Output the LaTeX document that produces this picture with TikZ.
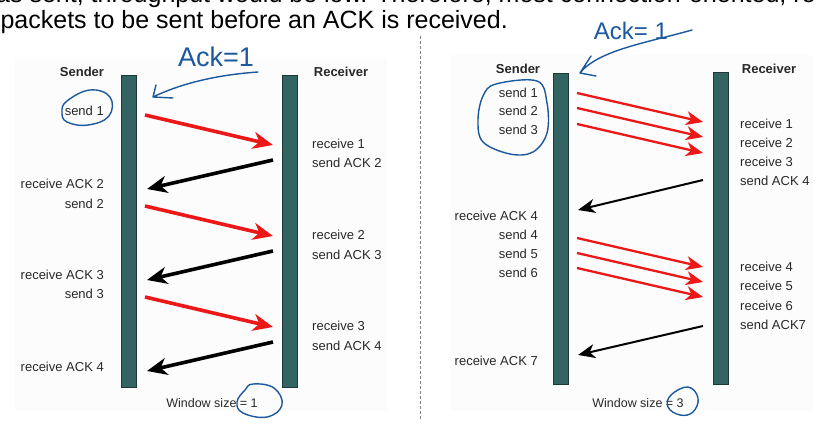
\documentclass[tikz,border=0pt]{standalone}
\usepackage{fontspec}
\setmainfont{Liberation Sans}
\usetikzlibrary{arrows.meta}
\definecolor{barfill}{RGB}{52,100,98}
\definecolor{bardraw}{RGB}{30,55,55}
\definecolor{datared}{RGB}{236,24,24}
\definecolor{inkblue}{RGB}{28,88,158}
\definecolor{labelgray}{RGB}{40,40,40}
\definecolor{panelbg}{RGB}{252,252,252}
\begin{document}
\begin{tikzpicture}[x=1pt, y=-1pt,
  bar/.style={draw=bardraw, fill=barfill, line width=0.6pt, minimum width=15pt, inner sep=0pt},
  head/.style={font=\fontsize{13}{15}\selectfont\bfseries, text=labelgray, inner sep=0pt},
  lbl/.style={font=\fontsize{13}{15}\selectfont, text=labelgray, inner sep=0pt},
  win/.style={font=\fontsize{12.5}{15}\selectfont, text=labelgray, inner sep=0pt},
  bigdata/.style={datared, line width=3.6pt, -{Stealth[length=20pt, width=17pt, inset=6pt]}},
  bigack/.style={black, line width=3.6pt, -{Stealth[length=20pt, width=17pt, inset=6pt]}},
  data/.style={datared, line width=2.3pt, -{Stealth[length=17pt, width=14pt, inset=5pt]}},
  ack/.style={black, line width=2.0pt, -{Stealth[length=17pt, width=14pt, inset=5pt]}},
  hand/.style={inkblue, line width=1.4pt, line cap=round, line join=round},
  ink/.style={text=inkblue, inner sep=0pt}]
\useasboundingbox (0,0) rectangle (828,433);
\clip (0,0) rectangle (828,433);
\fill[white] (0,0) rectangle (828,433);
\fill[panelbg] (15,58) rectangle (387,411);
\fill[panelbg] (450,55) rectangle (813,411);
\node[anchor=base west, inner sep=0pt, font=\fontsize{25}{30}\selectfont] (line1) at (-4,3) {as sent, throughput would be low. Therefore, most connection-oriented, re};
\node[anchor=base east, inner sep=0pt, font=\fontsize{25}{30}\selectfont] (line2) at (508,29) {packets to be sent before an ACK is received.};
\draw[gray, line width=0.9pt, dash pattern=on 3pt off 2pt] (420,36) -- (420,420);

\node[head] (senderL) at (82,72) {Sender};
\node[head] (receiverL) at (341,72) {Receiver};
\node[bar, minimum height=312pt] (sbarL) at (129,231) {};
\node[bar, minimum height=312pt] (rbarL) at (290,231) {};
\node[lbl, anchor=east] (ls1) at (104,111) {send 1};
\node[lbl, anchor=east] (la2) at (104,184) {receive ACK 2};
\node[lbl, anchor=east] (ls2) at (104,204) {send 2};
\node[lbl, anchor=east] (la3) at (104,275) {receive ACK 3};
\node[lbl, anchor=east] (ls3) at (104,294) {send 3};
\node[lbl, anchor=east] (la4) at (104,367) {receive ACK 4};
\node[lbl, anchor=west] (lr1) at (312,144) {receive 1};
\node[lbl, anchor=west] (lk2) at (312,163) {send ACK 2};
\node[lbl, anchor=west] (lr2) at (312,235) {receive 2};
\node[lbl, anchor=west] (lk3) at (312,255) {send ACK 3};
\node[lbl, anchor=west] (lr3) at (312,326) {receive 3};
\node[lbl, anchor=west] (lk4) at (312,346) {send ACK 4};
\node[win] (winL) at (212,403) {Window size = 1};
\foreach \n/\y in {1/115,2/206,3/297} {
  \coordinate (ld\n) at (145,\y);
  \coordinate (lre\n) at (273,\y+30);
  \coordinate (lks\n) at (273,\y+45);
  \coordinate (lke\n) at (147,\y+74);
  \draw[bigdata] (ld\n) -- (lre\n);
  \draw[bigack] (lks\n) -- (lke\n);
}

\node[head] (senderR) at (518,69) {Sender};
\node[head] (receiverR) at (769,69) {Receiver};
\node[bar, minimum height=311pt] (sbarR) at (560.5,228.5) {};
\node[bar, minimum height=312pt] (rbarR) at (720.5,228) {};
\node[lbl, anchor=east] (rs1) at (538,93) {send 1};
\node[lbl, anchor=east] (rs2) at (538,111) {send 2};
\node[lbl, anchor=east] (rs3) at (538,130) {send 3};
\node[lbl, anchor=east] (ra4) at (538,216) {receive ACK 4};
\node[lbl, anchor=east] (rs4) at (538,235) {send 4};
\node[lbl, anchor=east] (rs5) at (538,254) {send 5};
\node[lbl, anchor=east] (rs6) at (538,273) {send 6};
\node[lbl, anchor=east] (ra7) at (538,361) {receive ACK 7};
\node[lbl, anchor=west] (rr1) at (740,124) {receive 1};
\node[lbl, anchor=west] (rr2) at (740,143) {receive 2};
\node[lbl, anchor=west] (rr3) at (740,162) {receive 3};
\node[lbl, anchor=west] (rk4) at (740,181) {send ACK 4};
\node[lbl, anchor=west] (rr4) at (740,267) {receive 4};
\node[lbl, anchor=west] (rr5) at (740,286) {receive 5};
\node[lbl, anchor=west] (rr6) at (740,306) {receive 6};
\node[lbl, anchor=west] (rk7) at (740,325) {send ACK7};
\node[win] (winR) at (638,403) {Window size = 3};
\foreach \n/\y in {1/93,2/108,3/124,4/238,5/253,6/268} {
  \coordinate (rd\n) at (577,\y);
  \coordinate (rre\n) at (703,\y+29);
  \draw[data] (rd\n) -- (rre\n);
}
\coordinate (rks1) at (703,180);
\coordinate (rke1) at (578,210);
\coordinate (rks2) at (703,326);
\coordinate (rke2) at (578,355);
\draw[ack] (rks1) -- (rke1);
\draw[ack] (rks2) -- (rke2);

\node[ink, font=\fontsize{27}{30}\selectfont] (ackL) at (216,57) {Ack=1};
\coordinate (penL) at (258,72);
\coordinate (tipL) at (153,97);
\draw[hand] (penL) .. controls (215,75) and (180,84) .. (tipL) (tipL) -- ++(3,-12) (tipL) -- ++(20,1);
\node[ink, font=\fontsize{24}{28}\selectfont] (ackR) at (631,31) {Ack= 1};
\coordinate (penR) at (692,30);
\coordinate (tipR) at (580,73);
\draw[hand] (penR) .. controls (650,42) and (598,50) .. (tipR) (tipR) -- ++(11,-17) (tipR) -- ++(16,3);
\draw[hand] plot[smooth cycle, tension=0.7] coordinates {(90,90) (110,97) (109,116) (88,125) (67,122) (62,112) (67,101)};
\draw[hand] plot[smooth cycle, tension=0.6] coordinates {(496,84) (537,81) (547,103) (547,133) (533,152) (510,154) (483,142) (478,120) (483,96)};
\draw[hand] plot[smooth cycle, tension=0.7] coordinates {(253,384) (274,388) (282,405) (267,417) (243,413) (237,402) (245,390)};
\draw[hand] plot[smooth cycle, tension=0.7] coordinates {(688,387) (698,398) (693,412) (680,415) (668,407) (671,395)};
\end{tikzpicture}
\end{document}
